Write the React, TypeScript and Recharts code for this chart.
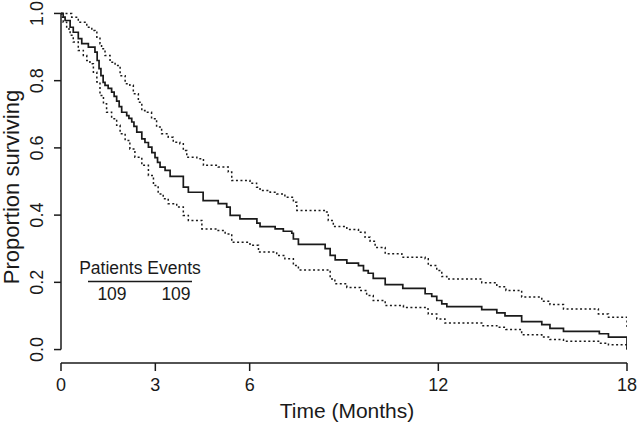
import React from 'react';
import { LineChart, Line, XAxis, YAxis, ReferenceLine } from 'recharts';

const FONT = '"Liberation Sans", Arial, Helvetica, sans-serif';
const INK = '#1a1a1a';

// Kaplan-Meier estimate (months, proportion surviving)
const survTime = [0, 0.07, 0.13, 0.29, 0.39, 0.55, 0.66, 0.87, 1.08, 1.15, 1.21, 1.27, 1.34, 1.40, 1.50, 1.61, 1.69, 1.77, 1.85, 1.93, 2.09, 2.16, 2.25, 2.32, 2.41, 2.57, 2.67, 2.78, 2.89, 2.99, 3.07, 3.15, 3.31, 3.47, 3.89, 4.05, 4.52, 5.00, 5.27, 5.38, 5.69, 6.23, 6.33, 6.81, 7.07, 7.34, 7.39, 7.55, 8.40, 8.56, 8.72, 9.09, 9.46, 9.62, 9.77, 9.93, 10.31, 10.87, 11.58, 11.79, 11.95, 12.11, 12.27, 13.38, 13.86, 14.12, 14.65, 15.29, 15.55, 15.98, 17.12, 17.41, 18];
const survVal = [1.0, 0.989, 0.979, 0.959, 0.944, 0.925, 0.910, 0.900, 0.885, 0.860, 0.836, 0.815, 0.795, 0.786, 0.777, 0.766, 0.753, 0.739, 0.723, 0.706, 0.696, 0.688, 0.677, 0.664, 0.647, 0.627, 0.616, 0.602, 0.586, 0.571, 0.557, 0.543, 0.533, 0.515, 0.483, 0.468, 0.443, 0.434, 0.424, 0.399, 0.389, 0.376, 0.366, 0.359, 0.352, 0.346, 0.329, 0.313, 0.300, 0.280, 0.267, 0.257, 0.250, 0.235, 0.227, 0.212, 0.193, 0.182, 0.166, 0.158, 0.146, 0.136, 0.128, 0.119, 0.109, 0.100, 0.083, 0.074, 0.063, 0.054, 0.047, 0.037, 0.0];

// Upper confidence limit
const upTime = [0, 0.34, 0.55, 0.82, 0.98, 1.08, 1.14, 1.24, 1.29, 1.40, 1.56, 1.72, 1.88, 2.04, 2.19, 2.30, 2.46, 2.57, 2.67, 2.88, 3.04, 3.20, 3.41, 3.57, 3.78, 3.89, 4.00, 4.32, 4.53, 5.00, 5.32, 5.43, 6.01, 6.22, 6.33, 6.65, 6.86, 7.12, 7.39, 7.50, 8.40, 8.50, 8.66, 9.09, 9.46, 9.67, 9.83, 9.99, 10.31, 10.84, 11.58, 11.68, 11.95, 12.11, 12.27, 13.38, 13.86, 14.15, 14.65, 15.29, 15.55, 15.98, 17.09, 17.41, 18];
const upVal = [1.0, 0.989, 0.974, 0.959, 0.949, 0.944, 0.929, 0.910, 0.895, 0.875, 0.855, 0.845, 0.815, 0.791, 0.786, 0.761, 0.736, 0.711, 0.706, 0.687, 0.662, 0.642, 0.632, 0.617, 0.612, 0.592, 0.572, 0.568, 0.548, 0.543, 0.528, 0.503, 0.495, 0.483, 0.473, 0.468, 0.463, 0.453, 0.438, 0.414, 0.409, 0.384, 0.366, 0.357, 0.349, 0.334, 0.322, 0.304, 0.285, 0.275, 0.270, 0.250, 0.235, 0.217, 0.210, 0.199, 0.187, 0.176, 0.156, 0.144, 0.134, 0.121, 0.106, 0.096, 0.062];

// Lower confidence limit
const loTime = [0, 0.02, 0.07, 0.18, 0.29, 0.39, 0.55, 0.71, 0.82, 0.92, 1.03, 1.14, 1.24, 1.35, 1.45, 1.61, 1.77, 1.88, 2.04, 2.19, 2.35, 2.57, 2.78, 2.94, 3.09, 3.25, 3.41, 3.68, 3.89, 4.05, 4.48, 4.95, 5.22, 5.43, 6.01, 6.28, 6.86, 7.12, 7.39, 7.55, 8.56, 8.71, 9.09, 9.51, 9.72, 9.93, 10.31, 10.89, 11.58, 11.68, 11.95, 12.21, 13.38, 13.86, 14.15, 14.65, 15.29, 15.55, 15.98, 17.12, 17.41, 18];
const loVal = [1.0, 0.989, 0.974, 0.954, 0.935, 0.915, 0.890, 0.875, 0.860, 0.850, 0.825, 0.796, 0.756, 0.731, 0.706, 0.687, 0.667, 0.642, 0.622, 0.597, 0.572, 0.548, 0.518, 0.488, 0.463, 0.449, 0.434, 0.424, 0.399, 0.384, 0.359, 0.354, 0.344, 0.319, 0.310, 0.290, 0.280, 0.270, 0.250, 0.237, 0.210, 0.196, 0.185, 0.176, 0.161, 0.146, 0.131, 0.125, 0.121, 0.106, 0.091, 0.079, 0.071, 0.066, 0.060, 0.044, 0.037, 0.030, 0.025, 0.019, 0.014, 0.0];

const xTicks = [0, 3, 6, 12, 18];
const yTicks = [0, 0.2, 0.4, 0.6, 0.8, 1.0];
const xTitle = 'Time (Months)';
const yTitle = 'Proportion surviving';
const legendHeaders = ['Patients', 'Events'];
const legendValues = ['109', '109'];

const toRows = (ts: number[], vs: number[]) => ts.map((t, i) => ({ t, s: vs[i] }));
const survRows = toRows(survTime, survVal);
const upRows = toRows(upTime, upVal);
const loRows = toRows(loTime, loVal);

function YTick(props: any) {
  const { x, y, payload } = props;
  return (
    <text x={x} y={y} transform={`rotate(-90, ${x}, ${y})`} textAnchor="middle"
      fontSize={18} fontFamily={FONT} fill={INK}>
      {Number(payload.value).toFixed(1)}
    </text>
  );
}

function XTick(props: any) {
  const { x, y, payload } = props;
  return (
    <text x={x} y={y} dy="0.71em" textAnchor="middle" fontSize={18} fontFamily={FONT} fill={INK}>
      {payload.value}
    </text>
  );
}

export default function App() {
  return (
    <div style={{ position: 'absolute', left: 0, top: 0, width: 640, height: 425, background: '#fff' }}>
      <LineChart width={640} height={425} margin={{ top: 0, right: 13, bottom: 0, left: 0 }}>
        <XAxis dataKey="t" type="number" domain={[0, 18]} ticks={xTicks} allowDataOverflow
          height={62} tickSize={8} tickMargin={7} tick={<XTick />}
          axisLine={{ stroke: INK, strokeWidth: 1.5 }} tickLine={{ stroke: INK, strokeWidth: 1.5 }} />
        <YAxis type="number" domain={[-0.04, 1.04]} ticks={yTicks} allowDataOverflow
          width={61} tickSize={7} tickMargin={11} tick={<YTick />} axisLine={false}
          tickLine={{ stroke: INK, strokeWidth: 1.5 }} />
        <ReferenceLine segment={[{ x: 0, y: 0 }, { x: 0, y: 1 }]} stroke={INK} strokeWidth={1.5} ifOverflow="visible" />
        <Line data={upRows} dataKey="s" type="stepAfter" stroke={INK} strokeWidth={1.5}
          strokeDasharray="2 2.5" dot={false} isAnimationActive={false} />
        <Line data={loRows} dataKey="s" type="stepAfter" stroke={INK} strokeWidth={1.5}
          strokeDasharray="2 2.5" dot={false} isAnimationActive={false} />
        <Line data={survRows} dataKey="s" type="stepAfter" stroke={INK} strokeWidth={1.7}
          dot={false} isAnimationActive={false} />
      </LineChart>
      <svg width={640} height={425} style={{ position: 'absolute', left: 0, top: 0, pointerEvents: 'none' }}>
        <text x={347} y={418} textAnchor="middle" fontSize={21} fontFamily={FONT} fill={INK}>{xTitle}</text>
        <text x={19} y={187} transform="rotate(-90, 19, 187)" textAnchor="middle" fontSize={22} fontFamily={FONT} fill={INK}>{yTitle}</text>
        <text x={140} y={274} textAnchor="middle" fontSize={17.5} fontFamily={FONT} fill={INK}>{legendHeaders.join(' ')}</text>
        <line x1={88} x2={192} y1={281.5} y2={281.5} stroke={INK} strokeWidth={1.5} />
        <text x={112} y={300} textAnchor="middle" fontSize={17.5} fontFamily={FONT} fill={INK}>{legendValues[0]}</text>
        <text x={176} y={300} textAnchor="middle" fontSize={17.5} fontFamily={FONT} fill={INK}>{legendValues[1]}</text>
      </svg>
    </div>
  );
}
